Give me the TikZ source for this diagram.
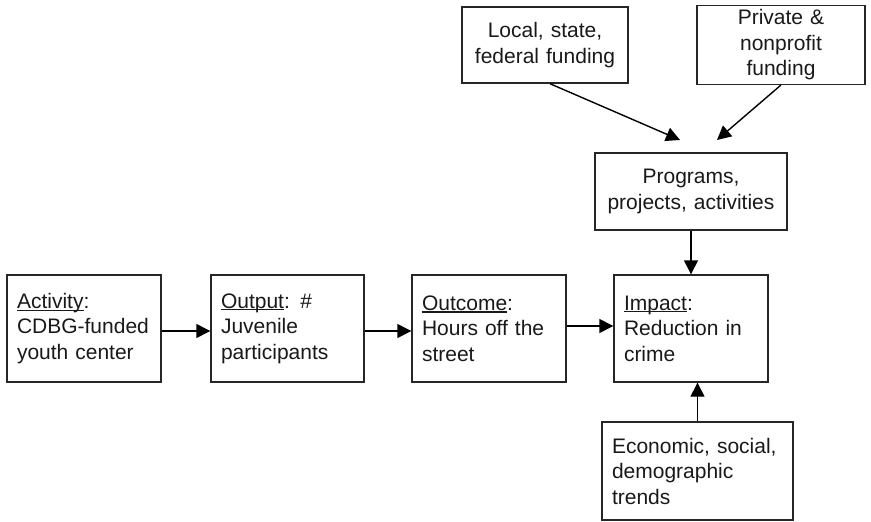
\documentclass[tikz,border=0pt]{standalone}
\usepackage{fontspec}
\setmainfont{Liberation Sans}
\usetikzlibrary{arrows.meta,calc}
\newcommand\myul[1]{\setbox0\hbox{#1}\rlap{\rule[-2.3pt]{\wd0}{1.2pt}}\box0}
\begin{document}
\begin{tikzpicture}[x=1pt,y=-1pt,
  box/.style={draw=black!85, line width=1.4pt, rectangle, inner xsep=10pt, inner ysep=4pt,
    font=\fontsize{21}{25.5}\selectfont, text=black!90},
  lbox/.style={box, align=left},
  cbox/.style={box, align=center},
  conn/.style={line width=1.4pt, black, -{Triangle[length=14pt,width=14pt]}}]
\useasboundingbox (0,0) rectangle (871,522);
% row boxes
\node[lbox, text width=134pt, minimum height=107pt] (act) at (84,328.5)
  {\myul{Activity}:\\CDBG-funded\\youth center};
\node[lbox, text width=133pt, minimum height=107pt] (out) at (287.5,328.5)
  {\myul{Output}: \#\\Juvenile\\participants};
\node[lbox, text width=134pt, minimum height=107pt] (outc) at (489,328.5)
  {\myul{Outcome}:\\Hours off the\\street};
\node[lbox, text width=134pt, minimum height=107pt] (imp) at (691,328.5)
  {\myul{Impact}:\\Reduction in\\crime};
% upper boxes
\node[cbox, text width=172pt, minimum height=77pt] (prog) at (691,191.5)
  {Programs,\\projects, activities};
\node[cbox, text width=146pt, minimum height=76pt] (loc) at (545,45)
  {Local, state,\\federal funding};
\node[cbox, text width=148pt, minimum height=76pt] (priv) at (781,45)
  {Private \&\\nonprofit\\funding};
% lower box
\node[lbox, text width=171pt, minimum height=98pt] (econ) at (697.5,471)
  {Economic, social,\\demographic\\trends};
% arrow ends
\coordinate (t1) at (680,140);
\coordinate (t2) at (717,140);
% connectors
\draw[conn] ($(act.east)+(0,2.5)$) -- ($(out.west)+(0,2.5)$);
\draw[conn] ($(out.east)+(0,2.5)$) -- ($(outc.west)+(0,2.5)$);
\draw[conn] ($(outc.east)+(0,-2.5)$) -- ($(imp.west)+(0,-2.5)$);
\draw[conn] (prog.south) -- (imp.north);
\draw[conn] (econ.north) -- (econ.north |- imp.south);
\draw[conn] ($(loc.south)+(5,0)$) -- (t1);
\draw[conn] (priv.south) -- (t2);
\end{tikzpicture}
\end{document}
